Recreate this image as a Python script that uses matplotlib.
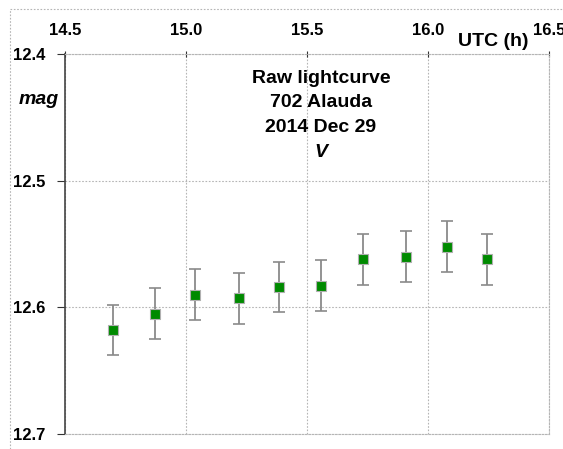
import matplotlib.pyplot as plt
from matplotlib.lines import Line2D

plt.rcParams["font.family"] = ["Liberation Sans", "DejaVu Sans"]
plt.rcParams["font.weight"] = "bold"

# readings off the raw lightcurve
utc = [14.700, 14.871, 15.036, 15.219, 15.385, 15.557, 15.733, 15.911, 16.077, 16.244]
mag = [12.618, 12.605, 12.590, 12.593, 12.584, 12.583, 12.562, 12.560, 12.552, 12.562]
mag_err = [0.02, 0.02, 0.02, 0.02, 0.02, 0.02, 0.02, 0.02, 0.02, 0.02]

x_ticks = [14.5, 15.0, 15.5, 16.0, 16.5]
y_ticks = [12.4, 12.5, 12.6, 12.7]
title_lines = ["Raw lightcurve", "702 Alauda", "2014 Dec 29"]

W, H = 563, 449
fig = plt.figure(figsize=(W / 100, H / 100), dpi=100)
ax = fig.add_axes([65 / W, (H - 434) / H, 484 / W, 380 / H])

ax.errorbar(
    utc, mag, yerr=mag_err,
    fmt="none", ecolor="#8a8a8a", elinewidth=1.3, capsize=4.5, capthick=1.2, zorder=3,
)
ax.plot(
    utc, mag, linestyle="none", marker="s", markersize=7,
    markerfacecolor="#008a00", markeredgecolor="#b0b0b0", markeredgewidth=0.8, zorder=4,
)

ax.set_xlim(14.5, 16.5)
ax.set_ylim(12.7, 12.4)
ax.xaxis.tick_top()
ax.set_xticks(x_ticks)
ax.set_xticklabels([f"{t:.1f}" for t in x_ticks])
ax.set_yticks(y_ticks)
ax.set_yticklabels([f"{t:.1f}" for t in y_ticks])
ax.tick_params(axis="x", direction="inout", length=5, pad=9, labelsize=12, color="#333333")
ax.tick_params(axis="y", direction="out", length=6, pad=8, labelsize=12, color="#333333")

ax.grid(True, color="#b5b5b5", linestyle=(0, (1.5, 1.5)), linewidth=0.8)
for side in ["top", "right", "bottom"]:
    ax.spines[side].set_color("#b5b5b5")
    ax.spines[side].set_linestyle((0, (1.5, 1.5)))
    ax.spines[side].set_linewidth(0.8)
ax.spines["left"].set_color("#444444")
ax.spines["left"].set_linewidth(1.2)

tx = (321 - 65) / 484
for i, (line, yc) in enumerate(zip(title_lines, [78, 102, 127])):
    ax.text(tx, (434 - yc) / 380, line, transform=ax.transAxes,
            ha="center", va="center", fontsize=14, fontweight="bold")
ax.text(tx, (434 - 152) / 380, "V", transform=ax.transAxes,
        ha="center", va="center", fontsize=14, fontweight="bold", style="italic")

fig.text(39 / W, 1 - 100 / H, "mag", ha="center", va="center",
         fontsize=14, fontweight="bold", style="italic")
fig.text(493 / W, 1 - 41 / H, "UTC (h)", ha="center", va="center",
         fontsize=14, fontweight="bold")

# dotted frame of the original sheet (left and top only visible)
fig.add_artist(Line2D([10 / W, 10 / W], [0, 1 - 9 / H], transform=fig.transFigure,
                      color="#b5b5b5", linestyle=(0, (1.5, 1.5)), linewidth=0.8))
fig.add_artist(Line2D([10 / W, 1], [1 - 9 / H, 1 - 9 / H], transform=fig.transFigure,
                      color="#b5b5b5", linestyle=(0, (1.5, 1.5)), linewidth=0.8))

fig.savefig("out.png", dpi=100)
